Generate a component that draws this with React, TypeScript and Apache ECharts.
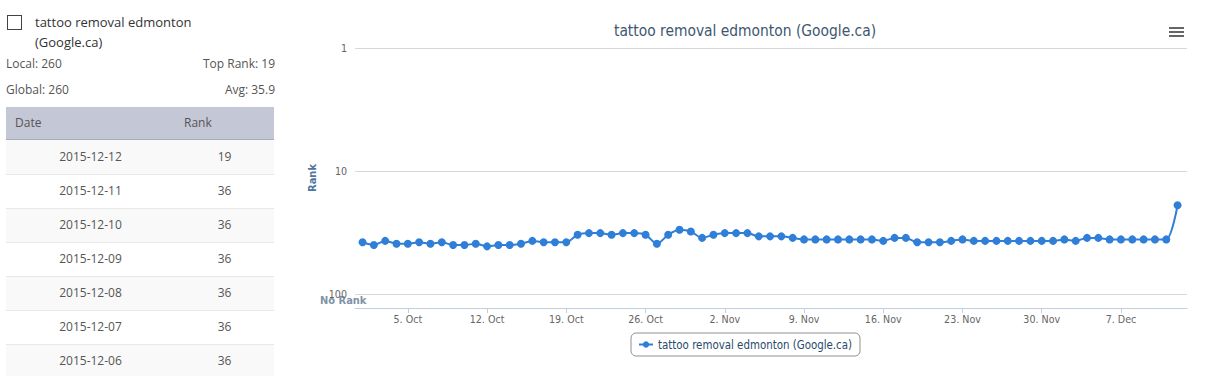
import React, { useEffect, useRef } from 'react';
import * as echarts from 'echarts';

const seriesName = 'tattoo removal edmonton (Google.ca)';

const dates = [
  '2015-10-01', '2015-10-02', '2015-10-03', '2015-10-04', '2015-10-05', '2015-10-06', '2015-10-07',
  '2015-10-08', '2015-10-09', '2015-10-10', '2015-10-11', '2015-10-12', '2015-10-13', '2015-10-14',
  '2015-10-15', '2015-10-16', '2015-10-17', '2015-10-18', '2015-10-19', '2015-10-20', '2015-10-21',
  '2015-10-22', '2015-10-23', '2015-10-24', '2015-10-25', '2015-10-26', '2015-10-27', '2015-10-28',
  '2015-10-29', '2015-10-30', '2015-10-31', '2015-11-01', '2015-11-02', '2015-11-03', '2015-11-04',
  '2015-11-05', '2015-11-06', '2015-11-07', '2015-11-08', '2015-11-09', '2015-11-10', '2015-11-11',
  '2015-11-12', '2015-11-13', '2015-11-14', '2015-11-15', '2015-11-16', '2015-11-17', '2015-11-18',
  '2015-11-19', '2015-11-20', '2015-11-21', '2015-11-22', '2015-11-23', '2015-11-24', '2015-11-25',
  '2015-11-26', '2015-11-27', '2015-11-28', '2015-11-29', '2015-11-30', '2015-12-01', '2015-12-02',
  '2015-12-03', '2015-12-04', '2015-12-05', '2015-12-06', '2015-12-07', '2015-12-08', '2015-12-09',
  '2015-12-10', '2015-12-11', '2015-12-12',
];

const ranks = [
  38, 40, 37, 39, 39, 38, 39,
  38, 40, 40, 39, 41, 40, 40,
  39, 37, 38, 38, 38, 33, 32,
  32, 33, 32, 32, 33, 39, 33,
  30, 31, 35, 33, 32, 32, 32,
  34, 34, 34, 35, 36, 36, 36,
  36, 36, 36, 36, 37, 35, 35,
  38, 38, 38, 37, 36, 37, 37,
  37, 37, 37, 37, 37, 37, 36,
  37, 35, 35, 36, 36, 36, 36,
  36, 36, 19,
];

const weekTicks = [
  '2015-10-05', '2015-10-12', '2015-10-19', '2015-10-26', '2015-11-02',
  '2015-11-09', '2015-11-16', '2015-11-23', '2015-11-30', '2015-12-07',
];
const monthNames = ['Jan', 'Feb', 'Mar', 'Apr', 'May', 'Jun', 'Jul', 'Aug', 'Sep', 'Oct', 'Nov', 'Dec'];
const yTicks = [1, 10, 100];
const noRankValue = 130;

const stats = { local: 260, global: 260, topRank: 19, avg: 35.9 };
const tableRowCount = 7;

const CHART_FONT = '"DejaVu Sans Condensed", "DejaVu Sans", sans-serif';
const PANEL_FONT = '"Open Sans", sans-serif';
const LINE_COLOR = '#2f7ed8';

const toTs = (s: string) => {
  const [y, m, d] = s.split('-').map(Number);
  return Date.UTC(y, m - 1, d);
};
const HOUR = 3600 * 1000;

function Chart() {
  const ref = useRef<HTMLDivElement>(null);
  useEffect(() => {
    if (!ref.current) return;
    const chart = echarts.init(ref.current, undefined, { renderer: 'svg' });
    const tickTs = weekTicks.map(toTs);
    const data = dates.map((d, i) => [toTs(d), ranks[i]]);
    chart.setOption({
      animation: false,
      textStyle: { fontFamily: CHART_FONT },
      title: {
        text: seriesName,
        left: 'center',
        top: 23,
        padding: 0,
        textStyle: { fontSize: 15.4, fontWeight: 'normal', color: '#3e576f', fontFamily: CHART_FONT },
      },
      grid: { left: 65, right: 13, top: 48, bottom: 68 },
      legend: {
        data: [seriesName],
        left: 'center',
        top: 333,
        padding: [6, 8, 6, 7],
        borderColor: '#909090',
        borderWidth: 1,
        borderRadius: 5,
        itemWidth: 14,
        itemHeight: 8,
        itemGap: 5,
        textStyle: { fontSize: 11.4, color: '#274b6d', fontFamily: CHART_FONT },
      },
      xAxis: {
        type: 'value',
        min: toTs(dates[0]) - 16 * HOUR,
        max: toTs(dates[dates.length - 1]) + 20 * HOUR,
        axisLine: { lineStyle: { color: '#c0d0e0', width: 1 } },
        axisTick: { show: true, customValues: tickTs, length: 5, lineStyle: { color: '#c0d0e0' } },
        axisLabel: {
          customValues: tickTs,
          color: '#666666',
          fontSize: 10.6,
          margin: 5,
          fontFamily: CHART_FONT,
          formatter: (v: number) => {
            const d = new Date(v);
            return `${d.getUTCDate()}. ${monthNames[d.getUTCMonth()]}`;
          },
        },
        splitLine: { show: false },
      },
      yAxis: {
        type: 'log',
        logBase: 10,
        inverse: true,
        min: 1,
        max: noRankValue,
        name: 'Rank',
        nameLocation: 'middle',
        nameGap: 24,
        nameTextStyle: { fontWeight: 'bold', color: '#4d759e', fontSize: 11, fontFamily: CHART_FONT },
        axisLine: { show: false },
        axisTick: { show: false },
        axisLabel: {
          color: '#666666',
          fontSize: 10.6,
          margin: 8,
          fontFamily: CHART_FONT,
          formatter: (v: number) => {
            const t = yTicks.find((k) => Math.abs(k - v) < 0.5);
            return t === undefined ? '' : String(t);
          },
        },
        splitLine: { show: true, showMaxLine: false, lineStyle: { color: '#d8d8d8', width: 1 } },
      },
      series: [
        {
          name: seriesName,
          type: 'line',
          data,
          smooth: 0.3,
          color: LINE_COLOR,
          lineStyle: { width: 2, color: LINE_COLOR },
          itemStyle: { color: LINE_COLOR },
          symbol: 'circle',
          symbolSize: 8,
          showAllSymbol: true,
        },
      ],
      graphic: [
        {
          type: 'text',
          left: 30,
          top: 295,
          style: { text: 'No Rank', fill: '#7f93a8', font: `bold 11px ${CHART_FONT}` },
        },
        { type: 'rect', shape: { x: 879, y: 27, width: 15, height: 2 }, style: { fill: '#666666' } },
        { type: 'rect', shape: { x: 879, y: 31, width: 15, height: 2 }, style: { fill: '#666666' } },
        { type: 'rect', shape: { x: 879, y: 35, width: 15, height: 2 }, style: { fill: '#666666' } },
      ],
    });
    return () => chart.dispose();
  }, []);
  return <div ref={ref} style={{ position: 'absolute', left: 290, top: 0, width: 910, height: 376 }} />;
}

function Panel() {
  const rows = [];
  for (let i = 0; i < tableRowCount; i++) {
    const idx = dates.length - 1 - i;
    rows.push({ date: dates[idx], rank: ranks[idx] });
  }
  const textStyle: React.CSSProperties = { position: 'absolute', fontSize: 12, color: '#555555', lineHeight: '16px' };
  return (
    <div style={{ position: 'absolute', left: 0, top: 0, width: 290, height: 376, fontFamily: PANEL_FONT }}>
      <div
        style={{
          position: 'absolute', left: 7, top: 15, width: 13, height: 13,
          border: '1px solid #444', background: '#fff',
        }}
      />
      <div style={{ position: 'absolute', left: 35, top: 12, fontSize: 13, lineHeight: '20px', color: '#333333' }}>
        <div>tattoo removal edmonton</div>
        <div>(Google.ca)</div>
      </div>
      <div style={{ ...textStyle, left: 6, top: 56 }}>Local: {stats.local}</div>
      <div style={{ ...textStyle, right: 290 - 275, top: 56 }}>Top Rank: {stats.topRank}</div>
      <div style={{ ...textStyle, left: 6, top: 82 }}>Global: {stats.global}</div>
      <div style={{ ...textStyle, right: 290 - 275, top: 82 }}>Avg: {stats.avg}</div>
      <div
        style={{
          position: 'absolute', left: 6, top: 107, width: 268, height: 33, boxSizing: 'border-box',
          background: '#c4c7d5', borderBottom: '1px solid #a9abb8', display: 'flex',
          fontSize: 12, color: '#555555', lineHeight: '32px',
        }}
      >
        <div style={{ width: 169, paddingLeft: 9, boxSizing: 'border-box' }}>Date</div>
        <div style={{ width: 99, paddingLeft: 9, boxSizing: 'border-box' }}>Rank</div>
      </div>
      {rows.map((r, i) => (
        <div
          key={r.date}
          style={{
            position: 'absolute', left: 6, top: 140 + 34 * i, width: 268,
            height: i === tableRowCount - 1 ? 32 : 34, boxSizing: 'border-box', overflow: 'hidden',
            background: i % 2 === 0 ? '#f9f9f9' : '#ffffff', borderTop: i === 0 ? 'none' : '1px solid #e8e8e8',
            display: 'flex', alignItems: 'center', fontSize: 12, color: '#555555', lineHeight: '16px',
            paddingBottom: i === tableRowCount - 1 ? 0 : 1,
          }}
        >
          <div style={{ width: 169, textAlign: 'center' }}>{r.date}</div>
          <div style={{ width: 99, textAlign: 'center' }}>{r.rank}</div>
        </div>
      ))}
    </div>
  );
}

export default function App() {
  return (
    <div
      style={{
        position: 'absolute', left: 0, top: 0, width: 1209, height: 376, overflow: 'hidden', background: '#ffffff',
      }}
    >
      <Panel />
      <Chart />
    </div>
  );
}
